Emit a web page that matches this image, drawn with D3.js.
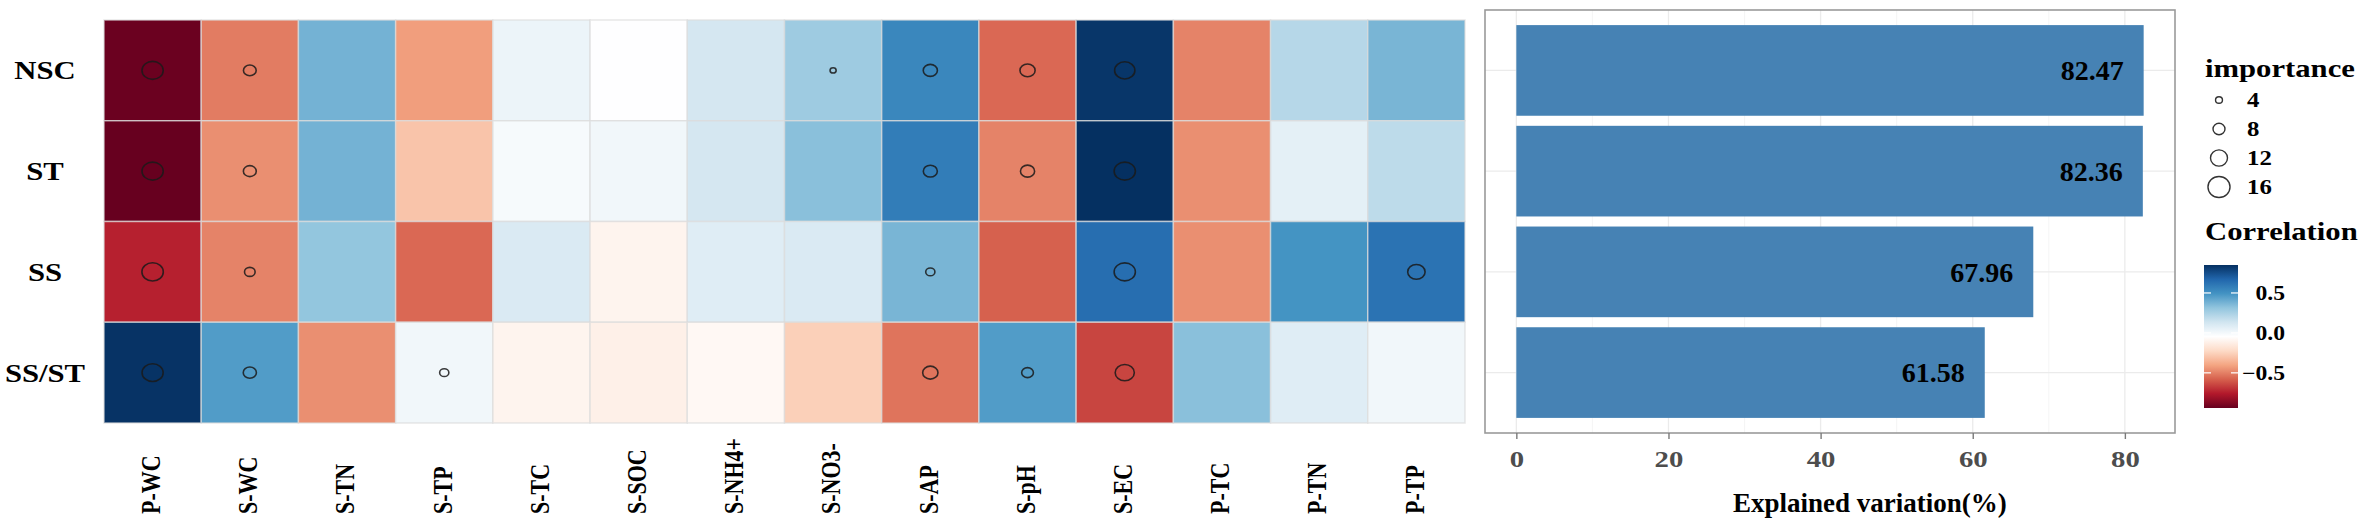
<!DOCTYPE html>
<html>
<head>
<meta charset="utf-8">
<script src="https://cdn.jsdelivr.net/npm/d3@7"></script>
<style>
  body { margin: 0; background: #fff; }
  text { font-family: "Liberation Serif", "Times New Roman", serif; font-weight: bold; }
</style>
</head>
<body>
<div id="chart"></div>
<script>
// data
const groups = ["NSC", "ST", "SS", "SS/ST"];
const factors = ["P-WC", "S-WC", "S-TN", "S-TP", "S-TC", "S-SOC", "S-NH4+", "S-NO3-", "S-AP", "S-pH", "S-EC", "P-TC", "P-TN", "P-TP"];

// correlation per factor, one array per group
const corrNSC  = [-0.93, -0.51, 0.38, -0.42, 0.03, -0.04, 0.12, 0.28, 0.54, -0.56, 0.83, -0.49, 0.21, 0.37];
const corrST   = [-0.94, -0.46, 0.38, -0.30, -0.01, 0.01, 0.12, 0.33, 0.58, -0.49, 0.85, -0.46, 0.06, 0.19];
const corrSS   = [-0.74, -0.49, 0.31, -0.56, 0.10, -0.10, 0.08, 0.10, 0.37, -0.58, 0.64, -0.46, 0.49, 0.62];
const corrSSST = [0.84, 0.46, -0.46, 0.01, -0.10, -0.12, -0.08, -0.26, -0.53, 0.46, -0.65, 0.33, 0.08, 0.01];

// importance (circle size), null = no circle
const impNSC  = [13.5, 7.5, null, null, null, null, null, 2.8, 8.5, 9.2, 12.8, null, null, null];
const impST   = [13.5, 7.6, null, null, null, null, null, null, 8.4, 8.5, 13.5, null, null, null];
const impSS   = [13.6, 6.0, null, null, null, null, null, null, 5.0, null, 13.5, null, null, 10.8];
const impSSST = [13.4, 7.8, null, 5.0, null, null, null, null, 9.3, 6.8, 12.0, null, null, null];

const explained = [82.47, 82.36, 67.96, 61.58];

const xTicks = [0, 20, 40, 60, 80];
const xMinor = [10, 30, 50, 70];
const importanceBreaks = [4, 8, 12, 16];
const corrBreaks = [-0.5, 0, 0.5];

// RdBu palette with a white middle
const palette = ["#67001f", "#b2182b", "#d6604d", "#f4a582", "#fddbc7", "#ffffff",
                 "#d1e5f0", "#92c5de", "#4393c3", "#2166ac", "#053061"];

const corrRows = [corrNSC, corrST, corrSS, corrSSST];
const impRows = [impNSC, impST, impSS, impSSST];

const width = 2362, height = 522;
const SX = 1.18; // the picture is stretched sideways a bit

const svg = d3.select("#chart").append("svg")
  .attr("width", width)
  .attr("height", height)
  .attr("viewBox", `0 0 ${width} ${height}`);

// helper for stretched text
function label(g, x, y, s, size, opts = {}) {
  const sx = opts.sx || SX;
  const rot = opts.rotate ? ` rotate(${opts.rotate})` : "";
  return g.append("text")
    .attr("transform", `translate(${x},${y}) scale(${sx},1)${rot}`)
    .attr("text-anchor", opts.anchor || "start")
    .attr("dy", opts.dy || null)
    .style("font-size", size + "px")
    .style("fill", opts.fill || "#000")
    .text(s);
}

// build cells
const cells = [];
groups.forEach((g, i) => {
  factors.forEach((f, j) => {
    cells.push({ group: g, factor: f, corr: corrRows[i][j], imp: impRows[i][j] });
  });
});

// scales
const xCol = d3.scaleBand().domain(factors).range([104, 1465]);
const yRow = d3.scaleBand().domain(groups).range([20, 423]);
const color = d3.scaleSequential(d3.piecewise(d3.interpolateRgb, palette))
  .domain(d3.extent(cells, d => d.corr));
const size = d3.scaleLinear().domain([4, 16]).range([3.3, 10.5]);

// heatmap
const heat = svg.append("g");
heat.selectAll("rect")
  .data(cells)
  .join("rect")
  .attr("x", d => xCol(d.factor))
  .attr("y", d => yRow(d.group))
  .attr("width", xCol.bandwidth())
  .attr("height", yRow.bandwidth())
  .attr("fill", d => color(d.corr))
  .attr("stroke", "#dcdcdc")
  .attr("stroke-opacity", 0.7)
  .attr("stroke-width", 1.5);

heat.selectAll("ellipse")
  .data(cells.filter(d => d.imp != null))
  .join("ellipse")
  .attr("cx", d => xCol(d.factor) + xCol.bandwidth() / 2)
  .attr("cy", d => yRow(d.group) + yRow.bandwidth() / 2)
  .attr("rx", d => size(d.imp) * SX)
  .attr("ry", d => size(d.imp))
  .attr("fill", "none")
  .attr("stroke", "#1a1a1a")
  .attr("stroke-opacity", 0.85)
  .attr("stroke-width", 1.6);

// row labels
groups.forEach(g => {
  label(svg, 45, yRow(g) + yRow.bandwidth() / 2 + 9, g, 26, { anchor: "middle" });
});

// column labels
factors.forEach(f => {
  label(svg, xCol(f) + xCol.bandwidth() / 2 - 2, 514, f, 22, { rotate: -90, dy: "0.35em", sx: 1.2 });
});

// bar panel
const xBar = d3.scaleLinear().domain([-4.12, 86.59]).range([1485, 2175]);
const yBar = d3.scaleBand().domain(groups).range([10, 433]).paddingInner(0.1).paddingOuter(0.15);

const panel = svg.append("g");
panel.append("rect")
  .attr("x", 1485).attr("y", 10)
  .attr("width", 690).attr("height", 423)
  .attr("fill", "#fff");

panel.selectAll(".minor")
  .data(xMinor)
  .join("line")
  .attr("x1", d => xBar(d)).attr("x2", d => xBar(d))
  .attr("y1", 10).attr("y2", 433)
  .attr("stroke", "#f2f2f2").attr("stroke-width", 0.8);

panel.selectAll(".major")
  .data(xTicks)
  .join("line")
  .attr("x1", d => xBar(d)).attr("x2", d => xBar(d))
  .attr("y1", 10).attr("y2", 433)
  .attr("stroke", "#ebebeb").attr("stroke-width", 1.3);

panel.selectAll(".hgrid")
  .data(groups)
  .join("line")
  .attr("x1", 1485).attr("x2", 2175)
  .attr("y1", d => yBar(d) + yBar.bandwidth() / 2)
  .attr("y2", d => yBar(d) + yBar.bandwidth() / 2)
  .attr("stroke", "#ebebeb").attr("stroke-width", 1.3);

panel.selectAll(".bar")
  .data(explained)
  .join("rect")
  .attr("x", xBar(0))
  .attr("y", (d, i) => yBar(groups[i]))
  .attr("width", d => xBar(d) - xBar(0))
  .attr("height", yBar.bandwidth())
  .attr("fill", "#4682b4");

explained.forEach((v, i) => {
  label(panel, xBar(v) - 20, yBar(groups[i]) + yBar.bandwidth() / 2, d3.format(".2f")(v), 28,
    { anchor: "end", dy: "0.35em", sx: 1 });
});

panel.append("rect")
  .attr("x", 1485).attr("y", 10)
  .attr("width", 690).attr("height", 423)
  .attr("fill", "none")
  .attr("stroke", "#9a9a9a")
  .attr("stroke-width", 1.6);

// x axis
const xAxis = svg.append("g")
  .attr("transform", "translate(0,433)")
  .call(d3.axisBottom(xBar).tickValues(xTicks).tickSize(6).tickSizeOuter(0));
xAxis.select(".domain").remove();
xAxis.selectAll(".tick line").attr("stroke", "#7a7a7a").attr("stroke-width", 1.4);
xAxis.selectAll(".tick text")
  .attr("y", 34).attr("dy", 0)
  .attr("transform", "scale(1.25,1)")
  .style("font-size", "23px")
  .style("fill", "#4d4d4d");

label(svg, 1733, 512, "Explained variation(%)", 27, { sx: 1 });

// legend: importance
const leg = svg.append("g");
label(leg, 2205, 77, "importance", 26);
const yImp = d3.scalePoint().domain(importanceBreaks).range([100, 187]);
leg.selectAll("ellipse")
  .data(importanceBreaks)
  .join("ellipse")
  .attr("cx", 2219)
  .attr("cy", d => yImp(d))
  .attr("rx", d => size(d) * 1.05)
  .attr("ry", d => size(d))
  .attr("fill", "none")
  .attr("stroke", "#333")
  .attr("stroke-width", 1.4);
importanceBreaks.forEach(b => {
  label(leg, 2247, yImp(b) + 7, String(b), 21);
});

// legend: correlation colour bar
label(leg, 2205, 240, "Correlation", 26);
const cDomain = color.domain();
const yCorr = d3.scaleLinear().domain(cDomain).range([408, 265]);
const grad = svg.append("defs").append("linearGradient")
  .attr("id", "corrGrad")
  .attr("x1", 0).attr("x2", 0).attr("y1", 1).attr("y2", 0);
d3.range(0, 1.0001, 0.05).forEach(t => {
  grad.append("stop")
    .attr("offset", t)
    .attr("stop-color", color(cDomain[0] + t * (cDomain[1] - cDomain[0])));
});
leg.append("rect")
  .attr("x", 2204).attr("y", 265)
  .attr("width", 34).attr("height", 143)
  .attr("fill", "url(#corrGrad)");
corrBreaks.forEach(b => {
  const y = yCorr(b);
  leg.append("line").attr("x1", 2204).attr("x2", 2211).attr("y1", y).attr("y2", y)
    .attr("stroke", "#fff").attr("stroke-width", 1.2);
  leg.append("line").attr("x1", 2231).attr("x2", 2238).attr("y1", y).attr("y2", y)
    .attr("stroke", "#fff").attr("stroke-width", 1.2);
  label(leg, 2285, y + 7, d3.format(".1f")(b), 20, { anchor: "end" });
});
</script>
</body>
</html>
